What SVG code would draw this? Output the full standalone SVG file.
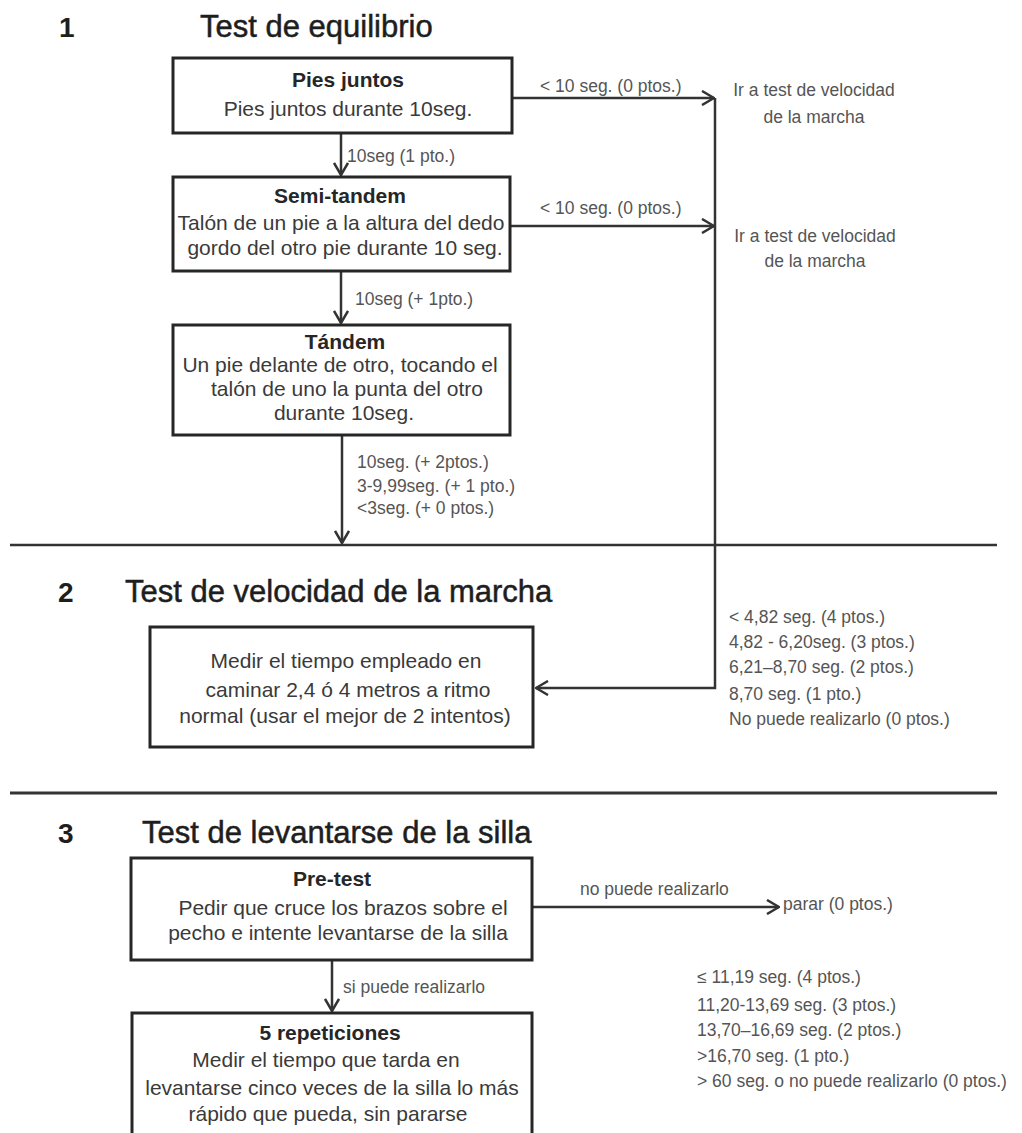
<svg xmlns="http://www.w3.org/2000/svg" width="1022" height="1133" viewBox="0 0 1022 1133">
<style>
.bg{fill:#ffffff}
.box{fill:#ffffff;stroke:#262626;stroke-width:3}
.num{font-family:"Liberation Sans",Arial,sans-serif;font-size:28px;font-weight:bold;fill:#1e1e1e}
.head{font-family:"Liberation Sans",Arial,sans-serif;font-size:31px;fill:#1e1e1e;stroke:#1e1e1e;stroke-width:0.5}
.ttl{font-family:"Liberation Sans",Arial,sans-serif;font-size:21px;font-weight:bold;fill:#262626;text-anchor:middle}
.body{font-family:"Liberation Sans",Arial,sans-serif;font-size:21px;fill:#3a3a3a;text-anchor:middle}
.lbl{font-family:"Liberation Sans",Arial,sans-serif;font-size:17.5px;fill:#555555}
.lblc{font-family:"Liberation Sans",Arial,sans-serif;font-size:17.5px;fill:#555555;text-anchor:middle}
.conn{fill:none;stroke:#333333;stroke-width:2.5}
.rule{fill:none;stroke:#333333}
</style>
<defs>
<marker id="arr" viewBox="0 0 14 16" refX="13" refY="8" markerWidth="14" markerHeight="16" markerUnits="userSpaceOnUse" orient="auto">
<path d="M1,1 L13,8 L1,15" fill="none" stroke="#333333" stroke-width="2.5"/>
</marker>
</defs>
<rect class="bg" x="0" y="0" width="1022" height="1133"/>

<g id="dividers">
<line class="rule" x1="10" y1="545" x2="997" y2="545" stroke-width="2.5"/>
<line class="rule" x1="10" y1="793" x2="997" y2="793" stroke-width="3"/>
</g>

<g id="headings">
<text class="num" x="59" y="37">1</text>
<text class="head" x="200" y="37">Test de equilibrio</text>
<text class="num" x="58" y="602">2</text>
<text class="head" x="125" y="602">Test de velocidad de la marcha</text>
<text class="num" x="58" y="843">3</text>
<text class="head" x="142" y="843">Test de levantarse de la silla</text>
</g>

<g id="connectors">
<path class="conn" d="M341,133 V175" marker-end="url(#arr)"/>
<path class="conn" d="M341,271 V323" marker-end="url(#arr)"/>
<path class="conn" d="M342,435 V543" marker-end="url(#arr)"/>
<path class="conn" d="M512,98 H714" marker-end="url(#arr)"/>
<path class="conn" d="M510,226 H714" marker-end="url(#arr)"/>
<path class="conn" d="M715,98 V688 H536" marker-end="url(#arr)"/>
<path class="conn" d="M532,907 H779" marker-end="url(#arr)"/>
<path class="conn" d="M332,960 V1011" marker-end="url(#arr)"/>
<text class="lbl" x="347" y="162">10seg (1 pto.)</text>
<text class="lbl" x="355" y="305">10seg (+ 1pto.)</text>
<text class="lbl" x="357" y="468">10seg. (+ 2ptos.)</text>
<text class="lbl" x="357" y="492">3-9,99seg. (+ 1 pto.)</text>
<text class="lbl" x="357" y="514">&lt;3seg. (+ 0 ptos.)</text>
<text class="lbl" x="540" y="92">&lt; 10 seg. (0 ptos.)</text>
<text class="lbl" x="540" y="214">&lt; 10 seg. (0 ptos.)</text>
<text class="lbl" x="580" y="895">no puede realizarlo</text>
<text class="lbl" x="343" y="993">si puede realizarlo</text>
</g>

<g id="goto1">
<text class="lblc" x="814" y="96">Ir a test de velocidad</text>
<text class="lblc" x="814" y="123">de la marcha</text>
</g>
<g id="goto2">
<text class="lblc" x="815" y="242">Ir a test de velocidad</text>
<text class="lblc" x="815" y="267">de la marcha</text>
</g>

<g id="pies-juntos">
<rect class="box" x="173" y="58" width="339" height="75"/>
<text class="ttl" x="348" y="87">Pies juntos</text>
<text class="body" x="348" y="116">Pies juntos durante 10seg.</text>
</g>

<g id="semi-tandem">
<rect class="box" x="173" y="177" width="337" height="94"/>
<text class="ttl" x="340" y="203">Semi-tandem</text>
<text class="body" x="341" y="230">Talón de un pie a la altura del dedo</text>
<text class="body" x="345" y="255">gordo del otro pie durante 10 seg.</text>
</g>

<g id="tandem">
<rect class="box" x="173" y="325" width="337" height="110"/>
<text class="ttl" x="345" y="349">Tándem</text>
<text class="body" x="340" y="372">Un pie delante de otro, tocando el</text>
<text class="body" x="347" y="396">talón de uno la punta del otro</text>
<text class="body" x="344" y="420">durante 10seg.</text>
</g>

<g id="velocidad">
<rect class="box" x="150" y="627" width="383" height="120"/>
<text class="body" x="346" y="668">Medir el tiempo empleado en</text>
<text class="body" x="348" y="697">caminar 2,4 ó 4 metros a ritmo</text>
<text class="body" x="345" y="723">normal (usar el mejor de 2 intentos)</text>
</g>

<g id="velocidad-scores">
<text class="lbl" x="729" y="623">&lt; 4,82 seg. (4 ptos.)</text>
<text class="lbl" x="729" y="648">4,82 - 6,20seg. (3 ptos.)</text>
<text class="lbl" x="729" y="673">6,21–8,70 seg. (2 ptos.)</text>
<text class="lbl" x="729" y="700">8,70 seg. (1 pto.)</text>
<text class="lbl" x="729" y="725">No puede realizarlo (0 ptos.)</text>
</g>

<g id="pre-test">
<rect class="box" x="131" y="858" width="401" height="102"/>
<text class="ttl" x="332" y="886">Pre-test</text>
<text class="body" x="343" y="915">Pedir que cruce los brazos sobre el</text>
<text class="body" x="338" y="940">pecho e intente levantarse de la silla</text>
</g>

<g id="parar">
<text class="lbl" x="783" y="910">parar (0 ptos.)</text>
</g>

<g id="repeticiones">
<rect class="box" x="132" y="1013" width="400" height="140"/>
<text class="ttl" x="330" y="1040">5 repeticiones</text>
<text class="body" x="326" y="1067">Medir el tiempo que tarda en</text>
<text class="body" x="332" y="1095">levantarse cinco veces de la silla lo más</text>
<text class="body" x="328" y="1121">rápido que pueda, sin pararse</text>
</g>

<g id="silla-scores">
<text class="lbl" x="697" y="983">≤ 11,19 seg. (4 ptos.)</text>
<text class="lbl" x="697" y="1011">11,20-13,69 seg. (3 ptos.)</text>
<text class="lbl" x="697" y="1036">13,70–16,69 seg. (2 ptos.)</text>
<text class="lbl" x="697" y="1062">&gt;16,70 seg. (1 pto.)</text>
<text class="lbl" x="697" y="1087">&gt; 60 seg. o no puede realizarlo (0 ptos.)</text>
</g>
</svg>
